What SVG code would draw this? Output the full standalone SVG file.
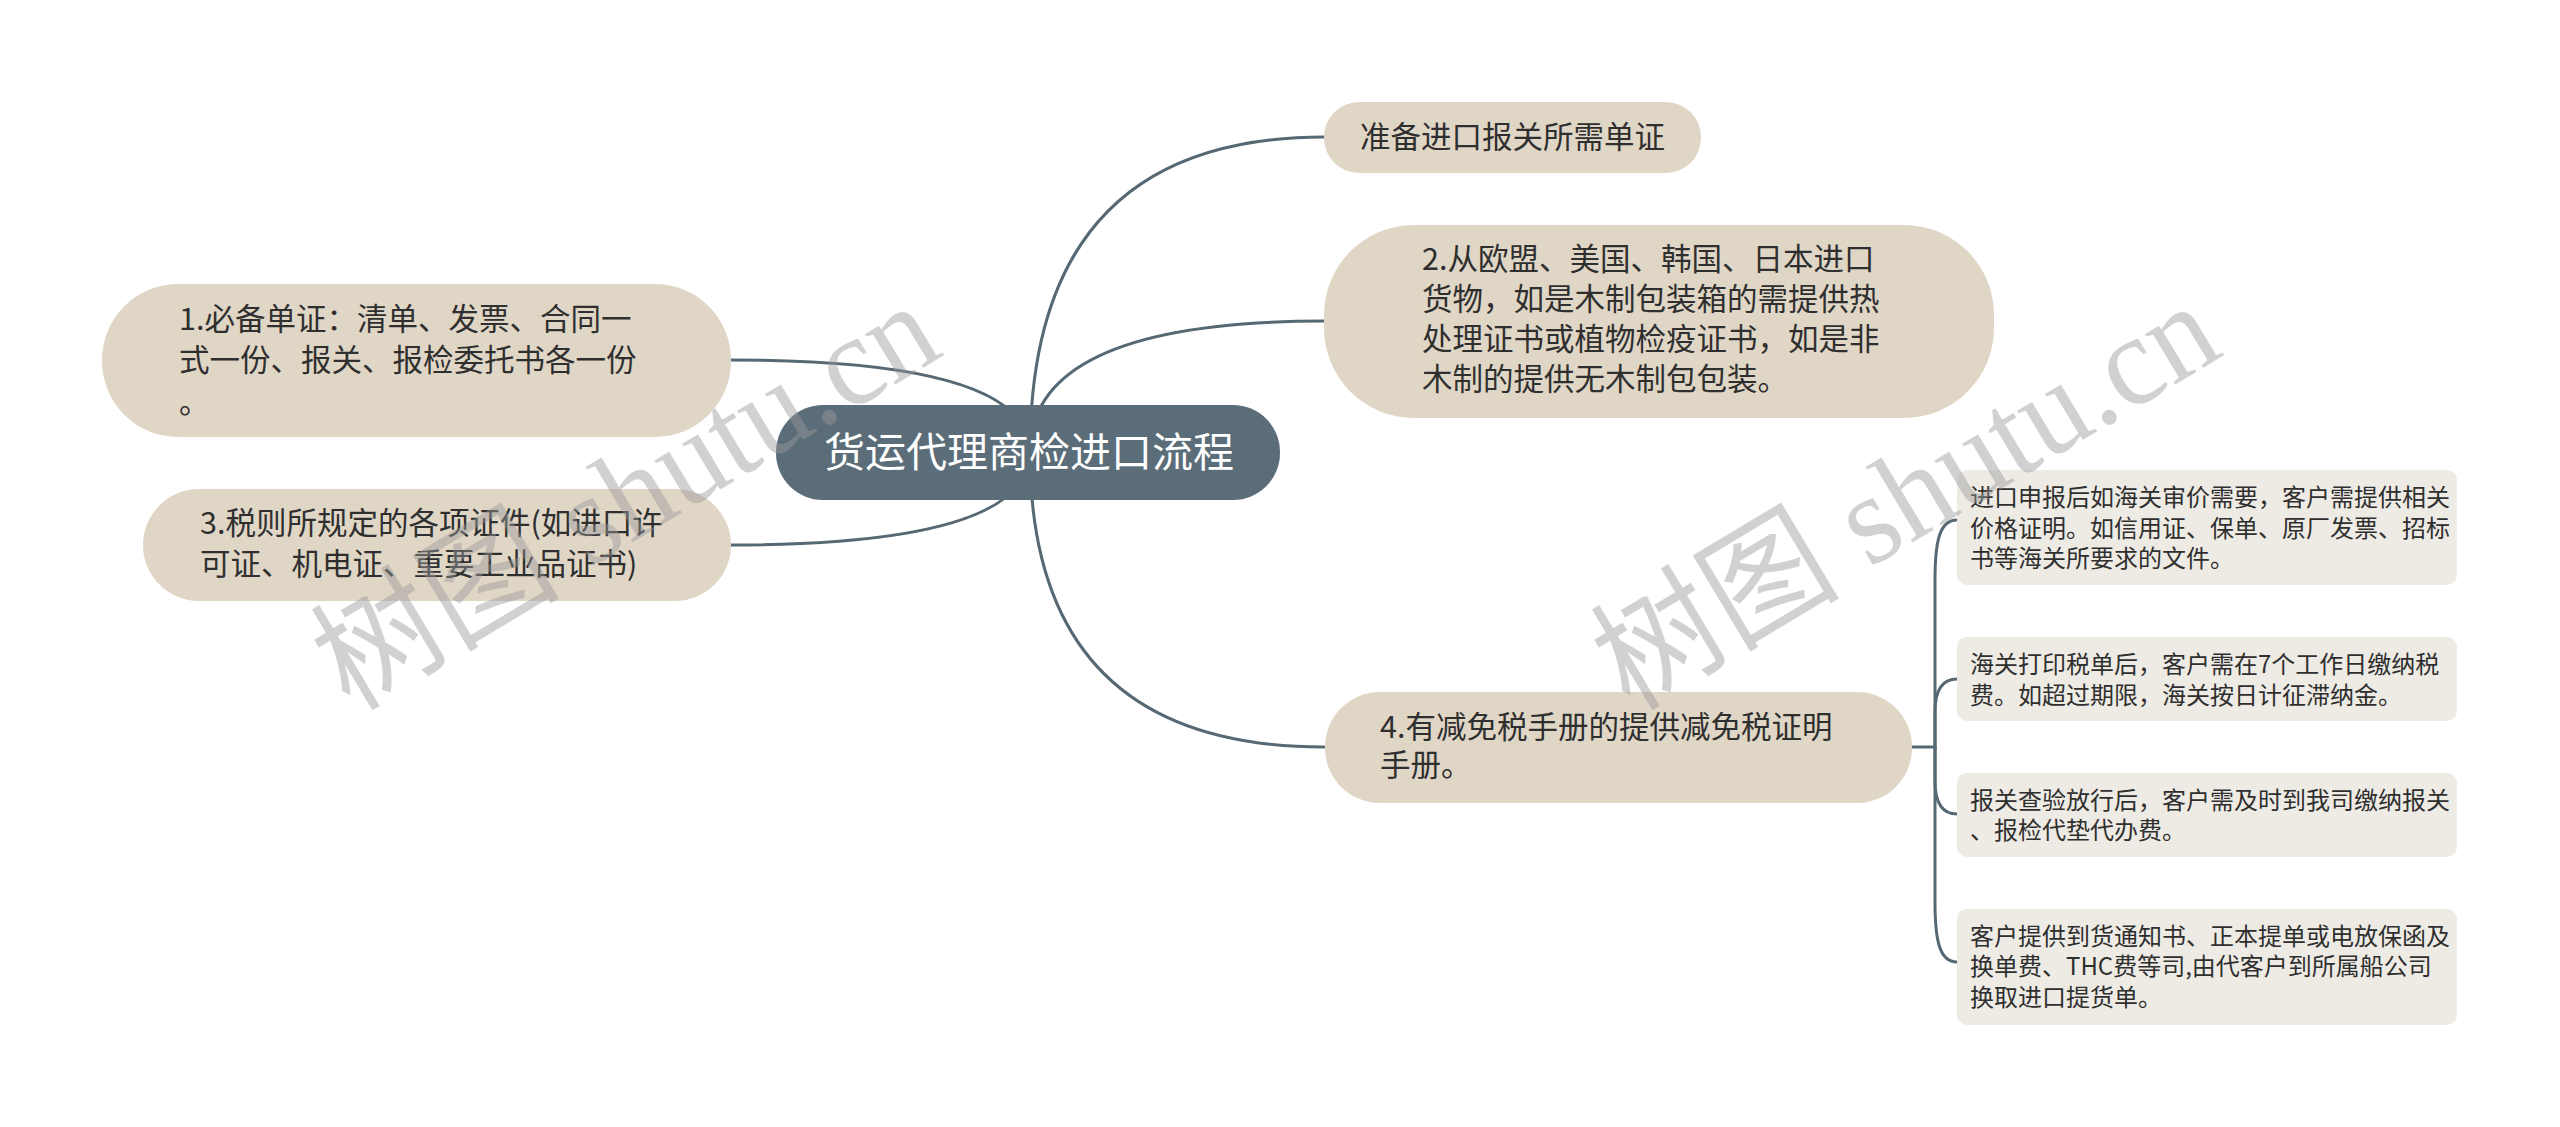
<svg xmlns="http://www.w3.org/2000/svg" width="2560" height="1127" viewBox="0 0 2560 1127">
<style>
.big{fill:#e0d6c6}
.small{fill:#eeebe5}
.t{font-family:"Noto Sans CJK SC","Noto Sans",sans-serif;fill:#2f2f2f}
.tb{font-size:30.5px}
.ts{font-size:24px}
.tc{font-family:"Noto Sans CJK SC","Noto Sans",sans-serif;font-size:41px;fill:#ffffff}
.ln{fill:none;stroke:#566873;stroke-width:3;stroke-linecap:round}
.wm{font-family:"Liberation Serif","Noto Sans CJK SC",serif;font-size:128px;fill:#9a9a9a;fill-opacity:0.45}
</style>
<rect width="2560" height="1127" fill="#ffffff"/>
<g id="connectors">
<path class="ln" d="M1030 452 Q1030 137 1324 137"/>
<path class="ln" d="M1030 452 Q1030 321 1324 321"/>
<path class="ln" d="M1030 452 Q1030 747 1324 747"/>
<path class="ln" d="M1030 452 Q1030 360 731 360"/>
<path class="ln" d="M1030 452 Q1030 545 731 545"/>
<path class="ln" d="M1912 747 L1935 747 L1935 580 C1935 540 1940 520 1957 520"/>
<path class="ln" d="M1935 747 L1935 712 Q1935 679 1957 679"/>
<path class="ln" d="M1935 747 L1935 781 Q1935 814 1957 814"/>
<path class="ln" d="M1935 747 L1935 902 C1935 942 1940 962 1957 962"/>
</g>
<g id="root">
<rect x="776" y="405" width="504" height="95" rx="47" fill="#5b6d79"/>
<text class="tc" x="824" y="467">货运代理商检进口流程</text>
</g>
<g id="n0">
<rect class="big" x="1324" y="102" width="377" height="71" rx="35"/>
<text class="t tb" x="1360" y="148">准备进口报关所需单证</text>
</g>
<g id="n2">
<rect class="big" x="1324" y="225" width="670" height="193" rx="90"/>
<text class="t tb" x="1422" y="270">2.从欧盟、美国、韩国、日本进口</text>
<text class="t tb" x="1422" y="310">货物，如是木制包装箱的需提供热</text>
<text class="t tb" x="1422" y="350">处理证书或植物检疫证书，如是非</text>
<text class="t tb" x="1422" y="390">木制的提供无木制包包装。</text>
</g>
<g id="n1">
<rect class="big" x="102" y="284" width="629" height="153" rx="76"/>
<text class="t tb" x="179" y="330">1.必备单证：清单、发票、合同一</text>
<text class="t tb" x="179" y="371">式一份、报关、报检委托书各一份</text>
<text class="t tb" x="179" y="413">。</text>
</g>
<g id="n3">
<rect class="big" x="143" y="489" width="588" height="112" rx="56"/>
<text class="t tb" x="200" y="534">3.税则所规定的各项证件(如进口许</text>
<text class="t tb" x="200" y="575">可证、机电证、重要工业品证书)</text>
</g>
<g id="n4">
<rect class="big" x="1325" y="692" width="587" height="111" rx="55"/>
<text class="t tb" x="1380" y="738">4.有减免税手册的提供减免税证明</text>
<text class="t tb" x="1380" y="776">手册。</text>
</g>
<g id="s1">
<rect class="small" x="1957" y="470" width="500" height="115" rx="10"/>
<text class="t ts" x="1970" y="506">进口申报后如海关审价需要，客户需提供相关</text>
<text class="t ts" x="1970" y="537">价格证明。如信用证、保单、原厂发票、招标</text>
<text class="t ts" x="1970" y="567">书等海关所要求的文件。</text>
</g>
<g id="s2">
<rect class="small" x="1957" y="637" width="500" height="84" rx="10"/>
<text class="t ts" x="1970" y="673">海关打印税单后，客户需在7个工作日缴纳税</text>
<text class="t ts" x="1970" y="704">费。如超过期限，海关按日计征滞纳金。</text>
</g>
<g id="s3">
<rect class="small" x="1957" y="773" width="500" height="84" rx="10"/>
<text class="t ts" x="1970" y="809">报关查验放行后，客户需及时到我司缴纳报关</text>
<text class="t ts" x="1970" y="839">、报检代垫代办费。</text>
</g>
<g id="s4">
<rect class="small" x="1957" y="909" width="500" height="116" rx="10"/>
<text class="t ts" x="1970" y="945">客户提供到货通知书、正本提单或电放保函及</text>
<text class="t ts" x="1970" y="975">换单费、THC费等司,由代客户到所属船公司</text>
<text class="t ts" x="1970" y="1006">换取进口提货单。</text>
</g>
<g id="watermarks">
<text class="wm" x="350" y="712" transform="rotate(-31 350 712)" textLength="695" lengthAdjust="spacingAndGlyphs">树图 shutu.cn</text>
<text class="wm" x="1630" y="712" transform="rotate(-31 1630 712)" textLength="695" lengthAdjust="spacingAndGlyphs">树图 shutu.cn</text>
</g>
</svg>
